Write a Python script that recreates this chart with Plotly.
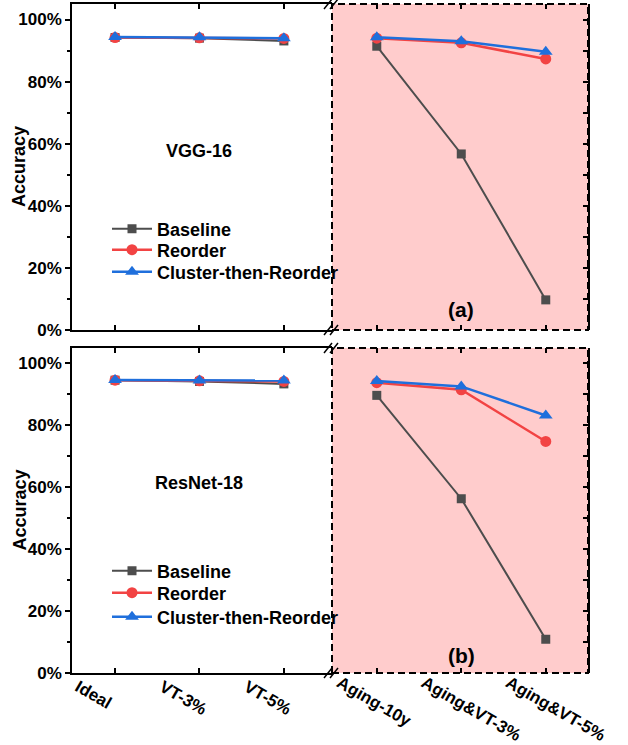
import plotly.graph_objects as go

# ---------------- data ----------------
cats_left = ["Ideal", "VT-3%", "VT-5%"]
cats_right = ["Aging-10y", "Aging&VT-3%", "Aging&VT-5%"]
series = ["Baseline", "Reorder", "Cluster-then-Reorder"]

# VGG-16 (panel a)
vgg_left = {
    "Baseline": [94.2, 94.0, 93.1],
    "Reorder": [94.2, 94.1, 93.9],
    "Cluster-then-Reorder": [94.4, 94.3, 94.0],
}
vgg_right = {
    "Baseline": [91.4, 56.7, 9.7],
    "Reorder": [94.0, 92.5, 87.3],
    "Cluster-then-Reorder": [94.3, 93.0, 89.6],
}
# ResNet-18 (panel b)
res_left = {
    "Baseline": [94.6, 94.2, 93.4],
    "Reorder": [94.6, 94.4, 94.2],
    "Cluster-then-Reorder": [94.7, 94.5, 94.5],
}
res_right = {
    "Baseline": [89.7, 56.3, 10.9],
    "Reorder": [93.8, 91.5, 74.8],
    "Cluster-then-Reorder": [94.3, 92.6, 83.2],
}
y_ticks = [0, 20, 40, 60, 80, 100]
y_ticktext = [f"{v}%" for v in y_ticks]

# ---------------- style ----------------
FONT = "Liberation Sans, Arial, sans-serif"
colors = {"Baseline": "#4d4d4d", "Reorder": "#f24343", "Cluster-then-Reorder": "#1f6fdc"}
symbols = {"Baseline": "square", "Reorder": "circle", "Cluster-then-Reorder": "triangle-up"}
msize = {"Baseline": 9, "Reorder": 11, "Cluster-then-Reorder": 12}
lw = {"Baseline": 2, "Reorder": 2.5, "Cluster-then-Reorder": 2.5}

W, H = 628, 745
ML, MR, MT, MB = 72, 40, 4, 72
PW, PH = W - ML - MR, H - MT - MB


def px(x):
    return (x - ML) / PW


def py(y):
    return (H - MB - y) / PH


split = px(332)
top_dom = [py(330), 1.0]
bot_dom = [0.0, py(348)]

fig = go.Figure()

panels = [
    (vgg_left, vgg_right, "x", "y", "x2", "y2", ["legend", "legend2", "legend3"]),
    (res_left, res_right, "x3", "y3", "x4", "y4", ["legend4", "legend5", "legend6"]),
]
for left, right, xl, yl, xr, yr, legs in panels:
    for s, leg in zip(series, legs):
        fig.add_trace(go.Scatter(
            x=cats_left, y=left[s], xaxis=xl, yaxis=yl, name=s, legend=leg,
            mode="lines+markers", line=dict(color=colors[s], width=lw[s]),
            marker=dict(symbol=symbols[s], size=msize[s], color=colors[s], line=dict(width=0)),
            showlegend=True))
    for s in series:
        fig.add_trace(go.Scatter(
            x=cats_right, y=right[s], xaxis=xr, yaxis=yr, name=s,
            mode="lines+markers", line=dict(color=colors[s], width=lw[s]),
            marker=dict(symbol=symbols[s], size=msize[s], color=colors[s], line=dict(width=0)),
            showlegend=False))

tickfont = dict(family=FONT, size=17, color="black", weight="bold")

def xl_axis(anchor, show_labels):
    return dict(domain=[0, split], anchor=anchor, range=[-0.51, 2.57], type="category",
                showline=True, linecolor="black", linewidth=1.5, mirror="ticks",
                ticks="inside", ticklen=5, tickwidth=1.5, tickcolor="black",
                showticklabels=show_labels, tickangle=30, tickfont=tickfont,
                ticklabelshift=-37, ticklabelstandoff=-4, automargin=False,
                showgrid=False, zeroline=False)

def xr_axis(anchor, show_labels):
    return dict(domain=[split, 1], anchor=anchor, range=[-0.53, 2.5], type="category",
                showline=False, mirror="ticks",
                ticks="inside", ticklen=5, tickwidth=1.5, tickcolor="black",
                showticklabels=show_labels, tickangle=30, tickfont=tickfont,
                ticklabelshift=-37, ticklabelstandoff=-4, automargin=False,
                showgrid=False, zeroline=False)

def yl_axis(dom, anchor):
    return dict(domain=dom, anchor=anchor, range=[0, 105], tickvals=y_ticks, ticktext=y_ticktext,
                showline=True, linecolor="black", linewidth=1.5, mirror=False,
                ticks="outside", ticklen=5, tickwidth=1.5, tickcolor="black",
                minor=dict(dtick=10, ticks="outside", ticklen=3, tickwidth=1.5, tickcolor="black"),
                tickfont=tickfont, showgrid=False, zeroline=False, automargin=False)

def yr_axis(dom, anchor, match):
    return dict(domain=dom, anchor=anchor, range=[0, 105], matches=match, side="right",
                tickvals=y_ticks, showticklabels=False, automargin=False,
                showline=True, linecolor="black", linewidth=1.5,
                ticks="inside", ticklen=5, tickwidth=1.5, tickcolor="black",
                minor=dict(dtick=10, ticks="inside", ticklen=5, tickwidth=1.5, tickcolor="black"),
                showgrid=False, zeroline=False)

legfont = dict(family=FONT, size=18, color="black", weight="bold")
leg_y = [229, 250, 272, 571, 593, 617]
legends = {}
for i, yy in enumerate(leg_y):
    key = "legend" if i == 0 else f"legend{i + 1}"
    legends[key] = dict(x=px(107), y=py(yy), xanchor="left", yanchor="middle", font=legfont,
                        bgcolor="rgba(0,0,0,0)", itemwidth=40)

fig.update_layout(
    width=W, height=H, margin=dict(l=ML, r=MR, t=MT, b=MB, autoexpand=False),
    paper_bgcolor="white", plot_bgcolor="white",
    font=dict(family=FONT, color="black"),
    xaxis=xl_axis("y", False), yaxis=yl_axis(top_dom, "x"),
    xaxis2=xr_axis("y2", False), yaxis2=yr_axis(top_dom, "x2", "y"),
    xaxis3=xl_axis("y3", True), yaxis3=yl_axis(bot_dom, "x3"),
    xaxis4=xr_axis("y4", True), yaxis4=yr_axis(bot_dom, "x4", "y3"),
    showlegend=True,
    **legends,
)

shapes = []
for xr, yr in [("x2", "y2"), ("x4", "y4")]:
    shapes.append(dict(type="rect", xref=f"{xr} domain", yref=f"{yr} domain", x0=0, x1=1, y0=0, y1=1,
                       fillcolor="#ffcccc", line=dict(color="black", width=2, dash="7px,4px"),
                       layer="below"))
# break marks
for yb in [4, 330, 348, 673]:
    for xc in [328, 334]:
        shapes.append(dict(type="line", xref="paper", yref="paper",
                           x0=px(xc - 4), y0=py(yb + 5), x1=px(xc + 4), y1=py(yb - 5),
                           line=dict(color="black", width=1.5)))
fig.update_layout(shapes=shapes)

annfont = dict(family=FONT, size=18, color="black", weight="bold")
labfont = dict(family=FONT, size=21, color="black", weight="bold")
fig.add_annotation(text="VGG-16", xref="x", yref="y", x="VT-3%", y=57.5, showarrow=False, font=annfont)
fig.add_annotation(text="ResNet-18", xref="x3", yref="y3", x="VT-3%", y=61.5, showarrow=False, font=annfont)
fig.add_annotation(text="(a)", xref="x2", yref="y2", x="Aging&VT-3%", y=6.5, showarrow=False, font=labfont)
fig.add_annotation(text="(b)", xref="x4", yref="y4", x="Aging&VT-3%", y=5.5, showarrow=False, font=labfont)
# y-axis titles
fig.add_annotation(text="Accuracy", xref="paper", yref="y domain", x=px(19), y=0.5, textangle=-90,
                   showarrow=False, font=annfont, xanchor="center", yanchor="middle")
fig.add_annotation(text="Accuracy", xref="paper", yref="y3 domain", x=px(19), y=0.5, textangle=-90,
                   showarrow=False, font=annfont, xanchor="center", yanchor="middle")

fig.write_html(
    "out.html",
    config={"displayModeBar": False},
    post_script="document.body.style.margin='0';document.body.style.padding='0';",
)
